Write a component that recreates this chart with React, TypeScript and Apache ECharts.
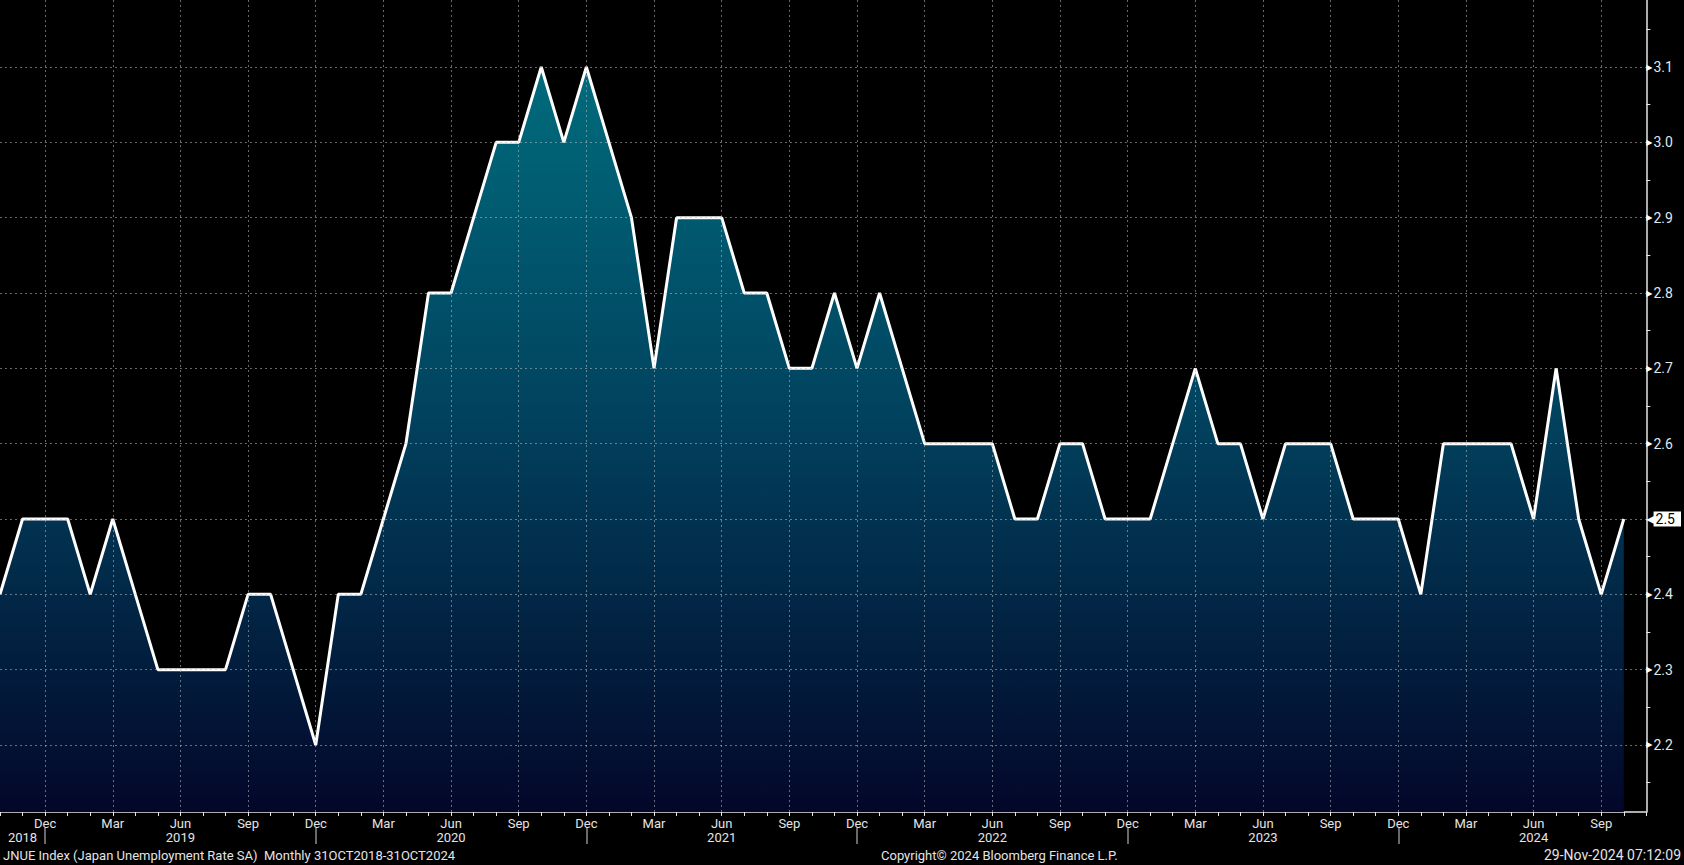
import React, { useEffect, useRef } from "react";
import * as echarts from "echarts";

// Japan Unemployment Rate SA (JNUE Index), monthly, Oct 2018 – Oct 2024
const rate2018 = [2.4, 2.5, 2.5]; // Oct–Dec
const rate2019 = [2.5, 2.4, 2.5, 2.4, 2.3, 2.3, 2.3, 2.3, 2.4, 2.4, 2.3, 2.2];
const rate2020 = [2.4, 2.4, 2.5, 2.6, 2.8, 2.8, 2.9, 3.0, 3.0, 3.1, 3.0, 3.1];
const rate2021 = [3.0, 2.9, 2.7, 2.9, 2.9, 2.9, 2.8, 2.8, 2.7, 2.7, 2.8, 2.7];
const rate2022 = [2.8, 2.7, 2.6, 2.6, 2.6, 2.6, 2.5, 2.5, 2.6, 2.6, 2.5, 2.5];
const rate2023 = [2.5, 2.6, 2.7, 2.6, 2.6, 2.5, 2.6, 2.6, 2.6, 2.5, 2.5, 2.5];
const rate2024 = [2.4, 2.6, 2.6, 2.6, 2.6, 2.5, 2.7, 2.5, 2.4, 2.5]; // Jan–Oct

const monthNames = ["Jan", "Feb", "Mar", "Apr", "May", "Jun", "Jul", "Aug", "Sep", "Oct", "Nov", "Dec"];
const labelledMonths = ["Mar", "Jun", "Sep", "Dec"];
const yLabelValues = [2.2, 2.3, 2.4, 2.5, 2.6, 2.7, 2.8, 2.9, 3.0, 3.1];
const yTickValues = [2.15, 2.2, 2.25, 2.3, 2.35, 2.4, 2.45, 2.5, 2.55, 2.6, 2.65, 2.7, 2.75, 2.8, 2.85, 2.9, 2.95, 3.0, 3.05, 3.1, 3.15];
const yMin = 2.111;
const yMax = 3.189;

const footerLeft = "JNUE Index (Japan Unemployment Rate SA)  Monthly 31OCT2018-31OCT2024";
const footerCenter = "Copyright\u00A9 2024 Bloomberg Finance L.P.";
const footerRight = "29-Nov-2024 07:12:09";

// axis runs Oct 2018 .. Nov 2024 (one empty month after the last value)
const startYear = 2018;
const startMonth = 9;
const axisMonths = 74;

const FONT = "Roboto, 'Liberation Sans', sans-serif";

export default function App() {
  const ref = useRef<HTMLDivElement>(null);

  useEffect(() => {
    if (!ref.current) return;
    const chart = echarts.init(ref.current, undefined, { renderer: "svg" });

    const categories: string[] = [];
    const monthOf: number[] = [];
    const yearOf: number[] = [];
    for (let i = 0; i < axisMonths; i++) {
      const m = (startMonth + i) % 12;
      const y = startYear + Math.floor((startMonth + i) / 12);
      categories.push(`${y}-${String(m + 1).padStart(2, "0")}`);
      monthOf.push(m);
      yearOf.push(y);
    }
    const values = [...rate2018, ...rate2019, ...rate2020, ...rate2021, ...rate2022, ...rate2023, ...rate2024];
    const lastValue = values[values.length - 1];

    // year label position: middle of the year's months visible on the axis
    const yearLabelIdx: Record<number, number> = {};
    const years = Array.from(new Set(yearOf));
    years.forEach((yr) => {
      const idxs = yearOf.map((y, i) => (y === yr ? i : -1)).filter((i) => i >= 0);
      yearLabelIdx[yr] = idxs[Math.floor((idxs.length - 1) / 2)];
    });

    const isQuarter = (i: number) => labelledMonths.includes(monthNames[monthOf[i]]);
    const isDec = (i: number) => monthOf[i] === 11;
    const isYearLabel = (i: number) => yearLabelIdx[yearOf[i]] === i;

    const gridColor = "rgba(190,190,190,0.55)";

    const option: any = {
      animation: false,
      backgroundColor: "#000000",
      grid: { left: 0, right: 32, top: 0, bottom: 53, containLabel: false },
      xAxis: [
        {
          type: "category",
          data: categories,
          boundaryGap: false,
          position: "bottom",
          axisLine: { show: true, lineStyle: { color: "#e6e6e6", width: 1.5 } },
          axisTick: { show: true, interval: 0, length: 4, inside: false, lineStyle: { color: "#e6e6e6" } },
          axisLabel: {
            show: true,
            interval: (i: number) => isQuarter(i),
            formatter: (_v: string, i: number) => (isQuarter(i) ? monthNames[monthOf[i]] : ""),
            color: "#e4e4e4",
            fontFamily: FONT,
            fontSize: 13,
            margin: 5,
          },
          splitLine: { show: false },
        },
        {
          type: "category",
          data: categories,
          boundaryGap: false,
          position: "bottom",
          offset: 16,
          axisLine: { show: false },
          axisTick: { show: true, interval: (i: number) => isDec(i), length: 16, inside: false, lineStyle: { color: "#8c8c8c", width: 1.5 } },
          axisLabel: {
            show: true,
            interval: (i: number) => isYearLabel(i),
            formatter: (_v: string, i: number) => (isYearLabel(i) ? String(yearOf[i]) : ""),
            color: "#e4e4e4",
            fontFamily: FONT,
            fontSize: 13,
            margin: 3,
          },
          splitLine: { show: false },
        },
      ],
      yAxis: [
        {
          type: "value",
          position: "right",
          min: yMin,
          max: yMax,
          axisLine: { show: true, lineStyle: { color: "#e6e6e6", width: 1.5 } },
          axisTick: { show: true, customValues: yTickValues, length: 4, inside: false, lineStyle: { color: "#e6e6e6" } },
          axisLabel: {
            show: true,
            customValues: yLabelValues.filter((v) => v !== lastValue),
            margin: 0,
            formatter: (v: number) => `{t|\u25B6}{v|${v.toFixed(1)}}`,
            rich: {
              t: { color: "#ffffff", fontSize: 8, fontFamily: "DejaVu Sans", padding: [0, 1, 0, 0] },
              v: { color: "#dfe7f0", fontSize: 14, fontFamily: FONT },
            },
          },
          splitLine: { show: false },
        },
        {
          type: "value",
          position: "right",
          min: yMin,
          max: yMax,
          axisLine: { show: false },
          axisTick: { show: false },
          splitLine: { show: false },
          axisLabel: {
            show: true,
            customValues: [lastValue],
            margin: 0,
            formatter: (v: number) => `{a|\u25C0}{b|${v.toFixed(1)}}`,
            rich: {
              a: { color: "#ffffff", fontSize: 12, fontFamily: "DejaVu Sans", padding: [0, -2, 0, 0] },
              b: { color: "#000000", backgroundColor: "#ffffff", fontSize: 14, fontFamily: FONT, padding: [1, 6, 0, 2] },
            },
          },
        },
      ],
      series: [
        {
          type: "line",
          data: values,
          xAxisIndex: 0,
          yAxisIndex: 0,
          symbol: "none",
          lineStyle: { color: "#ffffff", width: 3 },
          areaStyle: {
            color: new echarts.graphic.LinearGradient(0, 0, 0, 1, [
              { offset: 0, color: "#006b7c" },
              { offset: 0.45, color: "#014460" },
              { offset: 1, color: "#03072a" },
            ]),
            opacity: 1,
          },
          markLine: {
            silent: true,
            symbol: "none",
            label: { show: false },
            lineStyle: { color: gridColor, type: [2, 3], width: 1 },
            data: [
              ...yLabelValues.map((v) => ({ yAxis: v })),
              ...categories.filter((_c, i) => isQuarter(i)).map((c) => ({ xAxis: c })),
            ],
          },
          z: 2,
        },
      ],
      graphic: [
        {
          type: "text",
          left: 3,
          top: 849,
          style: { text: footerLeft, fill: "#e4e4e4", font: `13px ${FONT}` },
        },
        {
          type: "text",
          left: 881,
          top: 849,
          style: { text: footerCenter, fill: "#e4e4e4", font: `13px ${FONT}` },
        },
        {
          type: "text",
          right: 3,
          top: 848,
          style: { text: footerRight, fill: "#e4e4e4", font: `14px ${FONT}` },
        },
      ],
    };

    chart.setOption(option);
    return () => chart.dispose();
  }, []);

  return (
    <div
      ref={ref}
      style={{ position: "fixed", left: 0, top: 0, width: 1684, height: 865, background: "#000" }}
    />
  );
}
